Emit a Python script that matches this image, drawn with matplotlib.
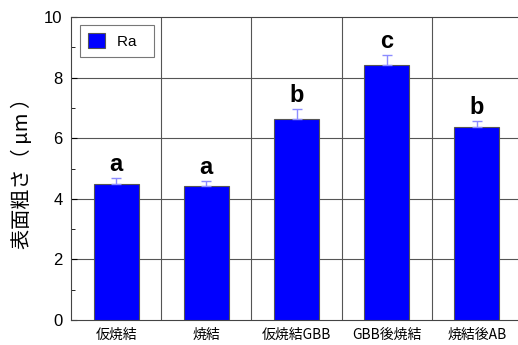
import numpy as np
import matplotlib.pyplot as plt
from matplotlib.ticker import MultipleLocator

plt.rcParams['font.family'] = ['Noto Sans CJK JP', 'DejaVu Sans']

# Surface roughness Ra for each process
categories = ['仮焼結', '焼結', '仮焼結GBB', 'GBB後焼結', '焼結後AB']
ra_mean = [4.50, 4.42, 6.63, 8.40, 6.37]
ra_err = [0.20, 0.17, 0.33, 0.35, 0.20]
groups = ['a', 'a', 'b', 'c', 'b']

fig = plt.figure(figsize=(5.18, 3.45), dpi=100)
ax = fig.add_axes([71 / 518, 25 / 345, 451 / 518, 303 / 345])

x = np.arange(len(categories))
ax.bar(x, ra_mean, width=0.5, color='#0000ff', edgecolor='#555555',
       linewidth=0.8, label='Ra', zorder=3)
ax.errorbar(x, ra_mean, yerr=[np.zeros(len(x)), ra_err], fmt='none',
            ecolor='#8c8cff', elinewidth=1.0, capsize=3.5, capthick=1.0, zorder=4)

# significance letters above the error bars
for xi, m, e, g in zip(x, ra_mean, ra_err, groups):
    ax.text(xi, m + e + 0.06, g, ha='center', va='bottom', fontsize=17,
            fontweight='bold', family='Liberation Sans', zorder=5)

ax.set_xlim(-0.5, len(categories) - 0.5)
ax.set_ylim(0, 10)
ax.yaxis.set_major_locator(MultipleLocator(2))
ax.yaxis.set_minor_locator(MultipleLocator(1))

# grid: horizontal at major y ticks, vertical at category boundaries
for yv in [2, 4, 6, 8]:
    ax.axhline(yv, color='#555555', linewidth=0.8, zorder=1)
for xv in np.arange(0.5, len(categories) - 0.5, 1.0):
    ax.axvline(xv, color='#555555', linewidth=0.8, zorder=1)

ax.set_xticks(x)
ax.set_xticklabels(categories, fontsize=10)
ax.tick_params(axis='x', length=0, pad=6)
ax.tick_params(axis='y', which='major', direction='in', length=4, labelsize=12, pad=6)
ax.tick_params(axis='y', which='minor', direction='in', length=3)
for lab in ax.get_yticklabels():
    lab.set_family('Liberation Sans')

for sp in ax.spines.values():
    sp.set_color('#444444')
    sp.set_linewidth(0.8)

ax.set_ylabel('表面粗さ（ μm ）', fontsize=14.5, labelpad=8)

leg = ax.legend(loc='upper left', bbox_to_anchor=(0.02, 0.975), fontsize=11,
                frameon=True, fancybox=False, edgecolor='#555555',
                handlelength=1.1, handleheight=1.1, borderpad=0.55,
                handletextpad=0.8, borderaxespad=0)
leg.get_frame().set_linewidth(0.8)
for t in leg.get_texts():
    t.set_family('Liberation Sans')
    t.set_text('Ra  ')

fig.savefig('out.png', dpi=100)
